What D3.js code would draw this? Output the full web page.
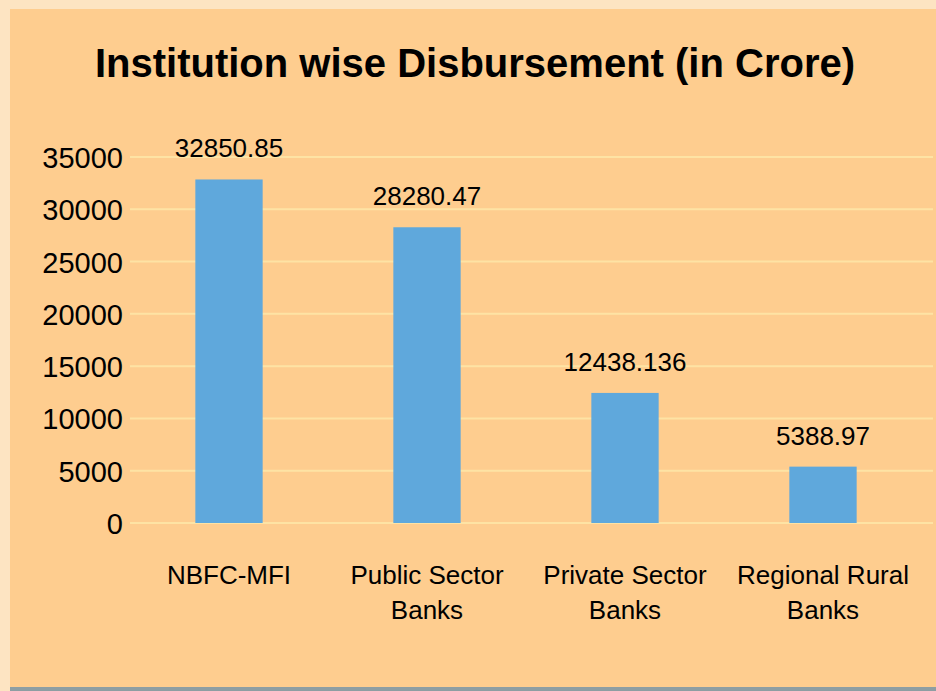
<!doctype html>
<meta charset="utf-8">
<title>Institution wise Disbursement</title>
<script src="https://cdn.jsdelivr.net/npm/d3@7"></script>
<style>
  body { margin: 0; background: #fde4c2; }
  svg { display: block; font-family: Arial, "Liberation Sans", Helvetica, sans-serif; }
</style>
<body>
<div id="chart"></div>
<script>
    var categories = [["NBFC-MFI"], ["Public Sector", "Banks"], ["Private Sector", "Banks"], ["Regional Rural", "Banks"]]
            , values = [32850.85, 28280.47, 12438.136, 5388.97]
            , valueLabels = ["32850.85", "28280.47", "12438.136", "5388.97"]
            , yTicks = [0, 5000, 10000, 15000, 20000, 25000, 30000, 35000];

    var width = 936, height = 691;

    var svg = d3.select('#chart').append('svg')
            .attr('width', width)
            .attr('height', height);

    // outer backdrop and panel
    svg.append('rect').attr('width', width).attr('height', height).attr('fill', '#fde4c2');
    svg.append('rect').attr('x', 10).attr('y', 9).attr('width', width - 10).attr('height', 679).attr('fill', '#fecd8f');
    svg.append('rect').attr('x', 10).attr('y', 687).attr('width', width - 10).attr('height', 4).attr('fill', '#8e9ea3');

    var x = d3.scaleBand()
            .domain(d3.range(values.length))
            .range([130, 922])
            .paddingInner(0.66)
            .paddingOuter(0.33);

    var y = d3.scaleLinear().domain([0, 35000]).range([523, 157]);

    // gridlines
    svg.selectAll('line.grid').data(yTicks).enter().append('line')
            .classed('grid', true)
            .attr('x1', 130).attr('x2', 933)
            .attr('y1', function(d) { return y(d) }).attr('y2', function(d) { return y(d) })
            .style('stroke', '#fee3a4').style('stroke-width', 2);

    // y tick labels
    svg.selectAll('text.ytick').data(yTicks).enter().append('text')
            .classed('ytick', true)
            .attr('x', 123)
            .attr('y', function(d) { return y(d) + 11 })
            .attr('text-anchor', 'end')
            .style('font-size', '29px')
            .attr('fill', '#000')
            .text(function(d) { return d });

    // bars
    svg.selectAll('rect.bar').data(values).enter().append('rect')
            .classed('bar', true)
            .attr('x', function(d, i) { return x(i) })
            .attr('width', x.bandwidth())
            .attr('y', function(d) { return y(d) })
            .attr('height', function(d) { return y(0) - y(d) })
            .attr('fill', '#5fa8dc');

    // value labels
    svg.selectAll('text.val').data(values).enter().append('text')
            .classed('val', true)
            .attr('x', function(d, i) { return x(i) + x.bandwidth() / 2 })
            .attr('y', function(d) { return y(d) - 22 })
            .attr('text-anchor', 'middle')
            .style('font-size', '26px')
            .text(function(d, i) { return valueLabels[i] });

    // category labels
    var cat = svg.selectAll('text.cat').data(categories).enter().append('text')
            .classed('cat', true)
            .attr('x', function(d, i) { return x(i) + x.bandwidth() / 2 })
            .attr('y', 584)
            .attr('text-anchor', 'middle')
            .style('font-size', '26px');
    cat.selectAll('tspan').data(function(d) { return d }).enter().append('tspan')
            .attr('x', function() { return d3.select(this.parentNode).attr('x') })
            .attr('dy', function(d, i) { return i ? 35 : 0 })
            .text(function(d) { return d });

    // title
    svg.append('text')
            .attr('x', 475).attr('y', 77)
            .attr('text-anchor', 'middle')
            .style('font-size', '40px').style('font-weight', 'bold')
            .text('Institution wise Disbursement (in Crore)');
</script>
</body>
